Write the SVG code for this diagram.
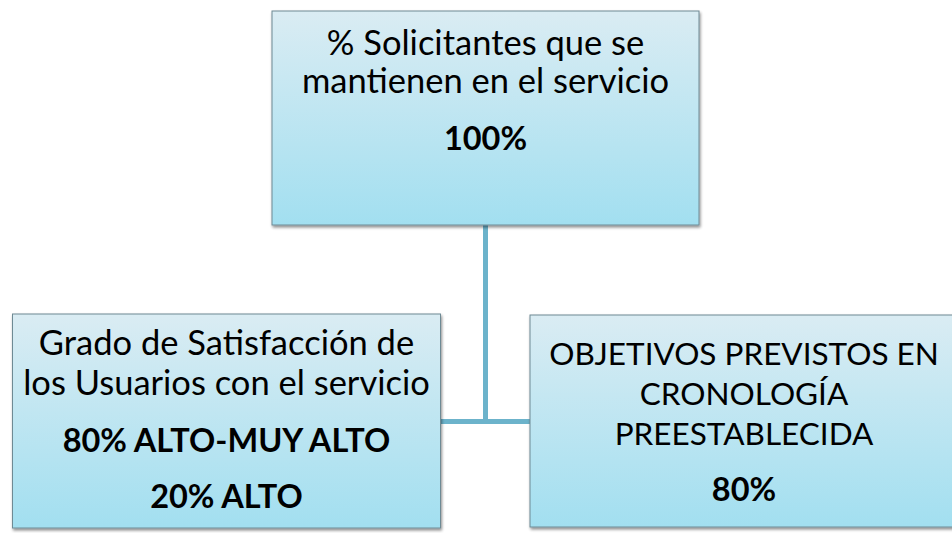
<svg xmlns="http://www.w3.org/2000/svg" width="952" height="533" viewBox="0 0 952 533">
<defs>
<linearGradient id="g" x1="0" y1="0" x2="0" y2="1">
<stop offset="0" stop-color="#DAECF3"/>
<stop offset="1" stop-color="#A2DFF0"/>
</linearGradient>
<filter id="sh" x="-5%" y="-5%" width="110%" height="115%">
<feGaussianBlur in="SourceAlpha" stdDeviation="1.5"/>
<feOffset dx="1" dy="2" result="b"/>
<feComponentTransfer><feFuncA type="linear" slope="0.45"/></feComponentTransfer>
<feMerge><feMergeNode/><feMergeNode in="SourceGraphic"/></feMerge>
</filter>
</defs>
<style>
.box{fill:url(#g);stroke:#6E8A94;stroke-width:1;filter:url(#sh)}
.t{font-family:Lato,"Open Sans","Liberation Sans",sans-serif;font-size:34.5px;fill:#000;text-anchor:middle}
.cap{font-size:31.5px}
.b{font-weight:bold;font-size:32.5px}
.c{stroke:#6CB3CB;stroke-width:5;fill:none}
</style>
<g id="connectors">
<line class="c" x1="485.5" y1="225" x2="485.5" y2="422"/>
<line class="c" x1="441" y1="421.5" x2="530" y2="421.5"/>
</g>
<g id="node-top">
<rect class="box" x="272" y="11" width="427" height="214"/>
<text class="t" x="485.5" y="55">% Solicitantes que se</text>
<text class="t" x="485.5" y="93">mantienen en el servicio</text>
<text class="t b" x="485.5" y="150">100%</text>
</g>
<g id="node-left">
<rect class="box" x="12.5" y="314" width="428" height="214"/>
<text class="t" x="226.5" y="355">Grado de Satisfacción de</text>
<text class="t" x="226.5" y="395">los Usuarios con el servicio</text>
<text class="t b" x="226.5" y="452">80% ALTO-MUY ALTO</text>
<text class="t b" x="226.5" y="508">20% ALTO</text>
</g>
<g id="node-right">
<rect class="box" x="530" y="315" width="430" height="212"/>
<text class="t cap" x="744" y="365">OBJETIVOS PREVISTOS EN</text>
<text class="t cap" x="744" y="405">CRONOLOGÍA</text>
<text class="t cap" x="744" y="445">PREESTABLECIDA</text>
<text class="t b" x="744" y="501">80%</text>
</g>
</svg>
